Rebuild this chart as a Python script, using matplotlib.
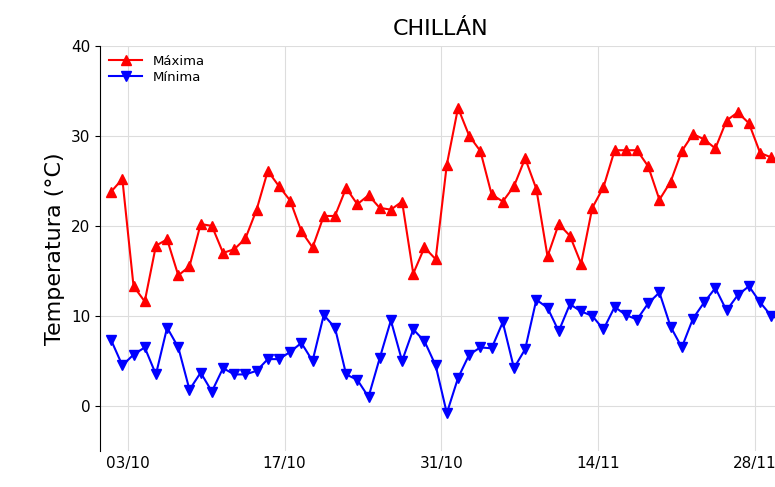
import matplotlib
matplotlib.use("Agg")
import matplotlib.pyplot as plt

# day of October (first point ~1.5)
start_day = 1.5
maxima = [23.8, 25.2, 13.3, 11.6, 17.8, 18.5, 14.5, 15.5, 20.2, 20.0, 17.0, 17.4, 18.6, 21.8,
          26.1, 24.4, 22.8, 19.4, 17.6, 21.1, 21.1, 24.2, 22.4, 23.4, 22.0, 21.8, 22.7, 14.7,
          17.6, 16.3, 26.8, 33.1, 30.0, 28.3, 23.5, 22.7, 24.4, 27.5, 24.1, 16.6, 20.2, 18.9,
          15.8, 22.0, 24.3, 28.4, 28.4, 28.4, 26.6, 22.9, 24.9, 28.3, 30.2, 29.6, 28.6, 31.7,
          32.6, 31.4, 28.1, 27.6, 26.5]
minima = [7.3, 4.5, 5.7, 6.5, 3.5, 8.7, 6.5, 1.8, 3.7, 1.6, 4.2, 3.5, 3.5, 3.9, 5.2, 5.2,
          6.0, 7.0, 5.0, 10.1, 8.7, 3.5, 2.9, 1.0, 5.3, 9.5, 5.0, 8.5, 7.2, 4.5, -0.8, 3.1,
          5.7, 6.5, 6.4, 9.3, 4.2, 6.3, 11.8, 10.9, 8.3, 11.3, 10.5, 10.0, 8.5, 11.0, 10.1,
          9.6, 11.4, 12.6, 8.8, 6.5, 9.7, 11.5, 13.1, 10.6, 12.3, 13.3, 11.5, 10.0, 9.5]
tick_days = [3, 17, 31, 45, 59]
tick_labels = ["03/10", "17/10", "31/10", "14/11", "28/11"]

days = [start_day + i for i in range(len(maxima))]

fig = plt.figure(figsize=(7.75, 4.87), dpi=100)
ax = fig.add_axes([0.129, 0.074, 0.885, 0.832])

ax.plot(days, maxima, color="red", marker="^", markersize=7, linewidth=1.5, label="Máxima")
ax.plot(days, minima, color="blue", marker="v", markersize=7, linewidth=1.5, label="Mínima")

ax.set_xlim(0.5, 61.8)
ax.set_ylim(-5, 40)
ax.set_yticks([0, 10, 20, 30, 40])
ax.set_xticks(tick_days)
ax.set_xticklabels(tick_labels)
ax.tick_params(labelsize=11)
ax.tick_params(axis="x", length=0)
ax.grid(True, color="#dddddd", linewidth=0.8)
ax.set_axisbelow(True)
for side in ["top", "right", "bottom"]:
    ax.spines[side].set_visible(False)

ax.set_ylabel("Temperatura (°C)", fontsize=16)
fig.text(0.568, 0.94, "CHILLÁN", ha="center", va="center", fontsize=16)
ax.legend(loc="upper left", frameon=False, fontsize=9.5, handlelength=2.5,
          borderaxespad=0.3, labelspacing=0.2)

fig.savefig("out.png", dpi=100)
